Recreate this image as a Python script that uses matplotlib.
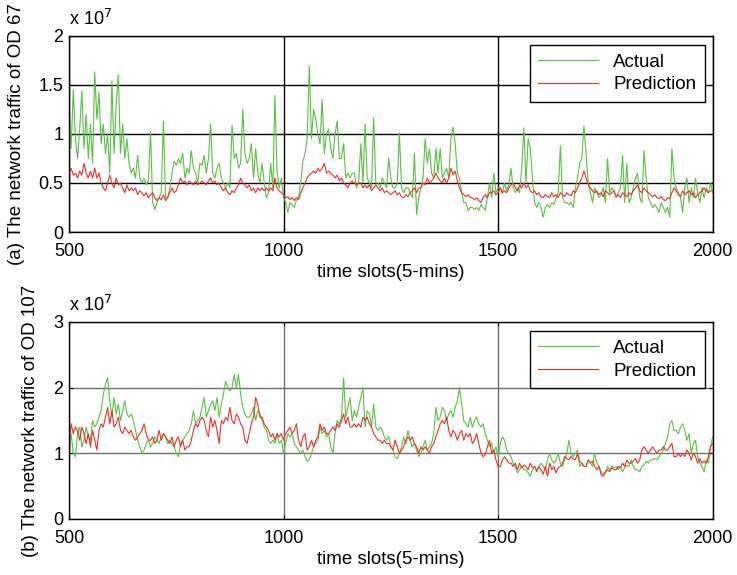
import numpy as np
import matplotlib
matplotlib.use('Agg')
import matplotlib.pyplot as plt
from matplotlib.ticker import FuncFormatter

plt.rcParams['font.family'] = ['Liberation Sans', 'DejaVu Sans']

slots = np.arange(500, 2001, 5)

od67_actual = [
  1.3, 0.85, 1.45, 0.95, 0.75, 1.05, 1.44, 0.85, 1.2, 0.75,
  1.1, 0.7, 1.63, 1.15, 1.42, 0.9, 1.1, 0.8, 1.0, 0.6,
  1.54, 0.8, 1.3, 1.6, 0.8, 1.1, 0.75, 0.95, 0.7, 0.6,
  0.65, 0.55, 0.78, 0.55, 0.5, 0.55, 0.48, 0.52, 1.02, 0.3,
  0.23, 0.3, 0.35, 0.4, 1.13, 0.35, 0.35, 0.45, 0.6, 0.72,
  0.68, 0.75, 0.7, 0.8, 0.55, 0.65, 0.6, 0.83, 0.65, 0.6,
  0.5, 0.7, 0.68, 0.78, 0.6, 0.75, 1.1, 0.6, 0.55, 0.65,
  0.7, 0.55, 0.5, 0.45, 0.5, 0.45, 1.09, 0.75, 0.8, 0.65,
  0.7, 1.25, 0.8, 0.7, 0.75, 0.9, 0.55, 0.85, 0.6, 0.5,
  0.7, 0.5, 0.35, 0.4, 0.7, 0.45, 1.39, 0.6, 0.45, 0.55,
  0.35, 0.3, 0.2, 0.3, 0.28, 0.25, 0.32, 0.35, 0.5, 0.72,
  0.8, 0.95, 1.69, 0.95, 1.25, 1.15, 1.0, 0.9, 1.35, 0.8,
  1.0, 1.05, 0.85, 0.75, 1.0, 1.13, 0.75, 0.75, 0.9, 0.55,
  0.6, 0.55, 0.6, 0.6, 0.45, 0.5, 0.9, 0.5, 1.1, 0.55,
  0.5, 0.45, 1.16, 0.5, 0.5, 0.45, 0.55, 0.5, 0.45, 0.75,
  0.55, 0.45, 0.45, 0.5, 1.01, 0.45, 0.4, 0.45, 0.45, 0.4,
  0.35, 0.8, 0.18, 0.35, 0.45, 0.55, 0.95, 0.7, 0.85, 0.6,
  0.55, 0.85, 0.6, 0.85, 0.55, 0.6, 0.65, 0.55, 0.95, 1.07,
  0.9, 0.6, 0.55, 0.4, 0.3, 0.3, 0.22, 0.25, 0.25, 0.23,
  0.25, 0.22, 0.28, 0.25, 0.22, 0.35, 0.5, 0.35, 0.6, 0.4,
  0.45, 0.45, 0.4, 0.5, 0.42, 0.48, 0.65, 0.45, 0.4, 0.45,
  0.4, 0.65, 1.06, 0.5, 0.95, 0.85, 0.55, 0.3, 0.25, 0.3,
  0.25, 0.15, 0.25, 0.28, 0.25, 0.3, 0.28, 0.35, 0.4, 0.88,
  0.35, 0.3, 0.3, 0.28, 0.3, 0.25, 0.45, 0.55, 0.7, 0.75,
  1.08, 0.8, 0.5, 0.4, 0.3, 0.45, 0.4, 0.35, 0.38, 0.45,
  0.3, 0.75, 0.4, 0.45, 0.42, 0.35, 0.4, 0.45, 0.78, 0.3,
  0.7, 0.3, 0.35, 0.45, 0.55, 0.6, 0.35, 0.3, 0.83, 0.55,
  0.35, 0.3, 0.25, 0.28, 0.25, 0.2, 0.3, 0.25, 0.2, 0.25,
  0.15, 0.85, 0.55, 0.45, 0.4, 0.35, 0.2, 0.45, 0.55, 0.3,
  0.45, 0.35, 0.55, 0.4, 0.3, 0.45, 0.35, 0.45, 0.4, 0.5,
  0.4,
]

od67_pred = [
  0.6, 0.65, 0.58, 0.6, 0.55, 0.62, 0.58, 0.7, 0.6, 0.55,
  0.62, 0.55, 0.65, 0.55, 0.6, 0.5, 0.45, 0.42, 0.5, 0.58,
  0.5, 0.45, 0.55, 0.48, 0.5, 0.45, 0.4, 0.48, 0.42, 0.45,
  0.42, 0.45, 0.38, 0.42, 0.4, 0.37, 0.4, 0.35, 0.38, 0.4,
  0.35, 0.32, 0.35, 0.33, 0.38, 0.32, 0.35, 0.4, 0.45, 0.4,
  0.42, 0.48, 0.55, 0.5, 0.52, 0.48, 0.52, 0.5, 0.48, 0.52,
  0.48, 0.5, 0.52, 0.5, 0.48, 0.52, 0.55, 0.5, 0.52, 0.48,
  0.5, 0.45, 0.42, 0.45, 0.4, 0.38, 0.42, 0.4, 0.45, 0.48,
  0.55, 0.5, 0.48, 0.45, 0.48, 0.42, 0.45, 0.4, 0.45, 0.42,
  0.45, 0.42, 0.45, 0.42, 0.45, 0.42, 0.55, 0.45, 0.42, 0.4,
  0.38, 0.35, 0.36, 0.33, 0.35, 0.32, 0.35, 0.33, 0.4, 0.45,
  0.5, 0.55, 0.58, 0.6, 0.62, 0.6, 0.65, 0.62, 0.65, 0.7,
  0.6, 0.62, 0.6, 0.58, 0.55, 0.58, 0.52, 0.55, 0.5, 0.48,
  0.45, 0.5, 0.52, 0.5, 0.48, 0.5, 0.5, 0.45, 0.48, 0.45,
  0.48, 0.42, 0.45, 0.48, 0.45, 0.42, 0.45, 0.4, 0.42, 0.4,
  0.38, 0.4, 0.42, 0.38, 0.4, 0.36, 0.35, 0.38, 0.36, 0.4,
  0.42, 0.45, 0.4, 0.45, 0.45, 0.5, 0.48, 0.55, 0.5, 0.52,
  0.55, 0.6, 0.55, 0.52, 0.5, 0.55, 0.5, 0.55, 0.65, 0.58,
  0.62, 0.52, 0.45, 0.4, 0.38, 0.36, 0.38, 0.35, 0.35, 0.33,
  0.35, 0.32, 0.3, 0.35, 0.38, 0.35, 0.4, 0.4, 0.42, 0.38,
  0.4, 0.45, 0.4, 0.42, 0.4, 0.45, 0.48, 0.5, 0.45, 0.42,
  0.48, 0.45, 0.5, 0.45, 0.48, 0.42, 0.4, 0.42, 0.38, 0.4,
  0.36, 0.35, 0.38, 0.36, 0.35, 0.4, 0.36, 0.38, 0.35, 0.4,
  0.38, 0.36, 0.4, 0.38, 0.37, 0.42, 0.4, 0.45, 0.5, 0.55,
  0.62, 0.55, 0.48, 0.45, 0.42, 0.4, 0.42, 0.38, 0.4, 0.36,
  0.42, 0.4, 0.38, 0.4, 0.42, 0.36, 0.38, 0.35, 0.4, 0.38,
  0.36, 0.4, 0.38, 0.42, 0.45, 0.48, 0.42, 0.4, 0.45, 0.42,
  0.4, 0.38, 0.36, 0.38, 0.35, 0.34, 0.36, 0.33, 0.32, 0.35,
  0.34, 0.4, 0.45, 0.42, 0.38, 0.36, 0.42, 0.38, 0.4, 0.42,
  0.38, 0.4, 0.35, 0.38, 0.4, 0.42, 0.45, 0.42, 0.4, 0.42,
  0.42,
]

od107_actual = [
  0.9, 1.3, 1.0, 0.95, 1.3, 1.4, 1.1, 1.2, 1.4, 1.25,
  1.2, 1.5, 1.4, 1.45, 1.55, 1.65, 1.9, 2.05, 2.15, 1.8,
  1.55, 1.85, 1.6, 1.75, 1.5, 1.65, 1.8, 1.6, 1.55, 1.6,
  1.5, 1.35, 1.2, 1.1, 1.0, 1.05, 1.15, 1.2, 1.1, 1.15,
  1.25, 1.2, 1.15, 1.25, 1.3, 1.25, 1.15, 1.2, 1.15, 1.1,
  1.0, 0.95, 1.15, 1.2, 1.25, 1.3, 1.35, 1.45, 1.65, 1.45,
  1.5, 1.55, 1.7, 1.85, 1.55, 1.65, 1.75, 1.8, 1.65, 1.85,
  1.55, 1.75, 1.9, 2.1, 2.0, 1.95, 2.0, 2.2, 2.0, 2.2,
  1.9, 1.7, 1.6, 1.55, 1.55, 1.6, 1.7, 1.5, 1.65, 1.6,
  1.5, 1.4, 1.35, 1.2, 1.15, 1.2, 1.15, 1.3, 1.15, 1.2,
  1.0, 1.15, 1.3, 1.25, 1.3, 1.15, 1.1, 1.05, 1.0, 1.05,
  0.95, 0.88, 0.9, 1.0, 1.1, 1.15, 1.2, 1.4, 1.3, 1.35,
  1.25, 1.3, 1.1, 1.0, 1.3, 1.5, 1.45, 1.55, 2.15, 1.55,
  1.7, 1.85, 1.5, 1.65, 1.55, 1.7, 1.85, 2.0, 1.4, 1.65,
  1.6, 1.4, 1.75, 1.4, 1.35, 1.4, 1.35, 1.25, 1.2, 1.25,
  1.1, 1.05, 0.95, 0.92, 1.0, 1.1, 1.25, 1.15, 1.35, 1.2,
  1.1, 1.15, 1.05, 0.95, 1.0, 1.1, 1.2, 1.05, 1.1, 1.15,
  1.3, 1.7, 1.5, 1.55, 1.7, 1.65, 1.5, 1.6, 1.65, 1.55,
  1.7, 1.8, 2.0, 1.75, 1.5, 1.45, 1.4, 1.55, 1.4, 1.5,
  1.55, 1.45, 1.4, 1.45, 1.3, 1.2, 1.1, 1.15, 1.0, 1.1,
  0.95, 1.15, 1.25, 1.2, 1.05, 1.0, 0.95, 0.85, 0.8, 0.7,
  0.75, 0.8, 0.75, 0.75, 0.7, 0.65, 0.75, 0.8, 0.75, 0.8,
  0.85, 0.8, 0.75, 0.9, 1.0, 0.9, 0.85, 0.9, 1.0, 0.85,
  0.8, 0.9, 1.0, 1.2, 1.0, 0.95, 1.0, 1.05, 0.8, 0.85,
  0.8, 0.8, 0.9, 0.85, 0.8, 1.0, 0.85, 0.8, 0.72, 0.68,
  0.7, 0.8, 0.75, 0.8, 0.78, 0.8, 0.75, 0.8, 0.72, 0.78,
  0.82, 0.8, 0.9, 0.8, 0.75, 0.75, 0.72, 0.8, 0.82, 0.88,
  0.85, 0.9, 0.9, 0.92, 0.9, 0.95, 1.0, 1.05, 1.15, 1.25,
  1.45, 1.5, 1.35, 1.35, 1.3, 1.4, 1.45, 1.35, 1.2, 1.3,
  1.0, 1.15, 1.2, 0.95, 0.85, 0.8, 0.72, 0.9, 0.85, 1.1,
  1.25,
]

od107_pred = [
  1.1, 1.45, 1.3, 1.4, 1.35, 1.2, 1.4, 1.3, 1.15, 1.3,
  1.1, 1.35, 1.2, 1.05, 1.35, 1.45, 1.4, 1.55, 1.7, 1.45,
  1.65, 1.4, 1.45, 1.55, 1.35, 1.3, 1.4, 1.35, 1.3, 1.35,
  1.25, 1.2, 1.25, 1.3, 1.35, 1.45, 1.3, 1.2, 1.2, 1.25,
  1.15, 1.2, 1.35, 1.2, 1.3, 1.25, 1.2, 1.15, 1.25, 1.1,
  1.2, 1.25, 1.1, 1.2, 1.05, 1.1, 1.1, 1.2, 1.35, 1.45,
  1.4, 1.5, 1.55, 1.5, 1.35, 1.25, 1.55, 1.4, 1.5, 1.35,
  1.15, 1.5, 1.45, 1.55, 1.5, 1.7, 1.5, 1.45, 1.6, 1.55,
  1.45, 1.4, 1.2, 1.15, 1.3, 1.45, 1.55, 1.85, 1.75, 1.55,
  1.55, 1.45, 1.4, 1.35, 1.25, 1.3, 1.2, 1.3, 1.25, 1.3,
  1.2, 1.3, 1.35, 1.4, 1.3, 1.35, 1.45, 1.2, 1.1, 1.25,
  1.3, 1.05, 1.1, 1.2, 1.1, 1.2, 1.25, 1.45, 1.35, 1.4,
  1.3, 1.3, 1.35, 1.4, 1.35, 1.45, 1.4, 1.5, 1.6, 1.45,
  1.55, 1.4, 1.4, 1.45, 1.4, 1.45, 1.4, 1.55, 1.5, 1.55,
  1.45, 1.4, 1.3, 1.25, 1.2, 1.2, 1.15, 1.2, 1.15, 1.15,
  1.1, 1.05, 1.2, 1.1, 1.0, 1.05, 1.1, 1.2, 1.25, 1.2,
  1.25, 1.15, 1.1, 1.0, 1.1, 1.05, 1.1, 1.05, 1.0, 1.1,
  1.15, 1.25, 1.35, 1.45, 1.5, 1.45, 1.55, 1.35, 1.25, 1.35,
  1.3, 1.2, 1.3, 1.35, 1.2, 1.3, 1.25, 1.3, 1.15, 1.2,
  1.3, 1.15, 1.0, 0.95, 0.98, 1.1, 1.2, 1.0, 1.05, 0.9,
  0.8, 0.8, 0.9, 0.95, 0.9, 0.85, 0.85, 0.8, 0.85, 0.75,
  0.85, 0.78, 0.82, 0.8, 0.75, 0.85, 0.78, 0.8, 0.72, 0.8,
  0.75, 0.68, 0.8, 0.65, 0.85, 0.75, 0.8, 0.7, 0.78, 0.8,
  0.85, 0.95, 0.92, 0.9, 0.95, 0.92, 0.9, 1.0, 0.88, 0.85,
  0.8, 0.8, 0.9, 0.85, 0.88, 0.8, 0.75, 0.8, 0.68, 0.65,
  0.72, 0.75, 0.72, 0.78, 0.75, 0.75, 0.8, 0.78, 0.85, 0.8,
  0.9, 0.85, 0.85, 0.88, 0.92, 0.85, 0.9, 1.05, 1.1, 1.05,
  1.0, 1.05, 1.1, 1.05, 1.0, 1.05, 1.05, 1.1, 1.05, 1.05,
  1.1, 1.15, 0.95, 0.95, 1.0, 0.95, 1.0, 0.95, 1.05, 1.0,
  0.9, 1.0, 0.95, 0.85, 0.92, 0.85, 0.88, 0.85, 0.95, 1.1,
  1.15,
]

panels = [
  ('(a) The network traffic of OD 67', od67_actual, od67_pred, 2, [0, 0.5, 1, 1.5, 2], 'black'),
  ('(b) The network traffic of OD 107', od107_actual, od107_pred, 3, [0, 1, 2, 3], '#6e6e6e'),
]
x_ticks = [500, 1000, 1500, 2000]

green = '#5bbf45'
red = '#e5322a'

fig = plt.figure(figsize=(7.37, 5.75), dpi=100)
axes_boxes = [[0.0936, 0.5965, 0.8734, 0.3414], [0.0936, 0.0974, 0.8734, 0.3426]]

for box, (ylabel, actual, pred, ytop, yticks, gridcolor) in zip(axes_boxes, panels):
  ax = fig.add_axes(box)
  ax.plot(slots, actual, color=green, lw=0.8, label='Actual')
  ax.plot(slots, pred, color=red, lw=0.8, label='Prediction')

  ax.set_xlim(500, 2000)
  ax.set_ylim(0, ytop)
  ax.set_xticks(x_ticks)
  ax.set_yticks(yticks)
  ax.yaxis.set_major_formatter(FuncFormatter(lambda v, p: '%g' % v))
  ax.tick_params(direction='in', length=3, width=0.8, labelsize=13,
                 top=True, right=True)
  ax.tick_params(axis='x', pad=8)
  ax.tick_params(axis='y', pad=4)
  ax.grid(True, color=gridcolor, lw=1.0, ls='-')
  ax.set_axisbelow(True)
  for s in ax.spines.values():
    s.set_linewidth(1.0)
    s.set_color('black')

  ax.set_xlabel('time slots(5-mins)', fontsize=13.5, labelpad=3)
  ax.set_ylabel(ylabel, fontsize=13.5, labelpad=10)
  ax.text(0, 1.056, r'x 10$^{7}$', transform=ax.transAxes, fontsize=13,
          ha='left', va='baseline')

  leg = ax.legend(loc='upper right', bbox_to_anchor=(0.988, 0.952), borderaxespad=0,
                  fontsize=13.5, fancybox=False, framealpha=1, edgecolor='black',
                  handlelength=3.2, borderpad=0.45, labelspacing=0.3)
  leg.get_frame().set_linewidth(1.0)

fig.savefig('out.png', dpi=100)
